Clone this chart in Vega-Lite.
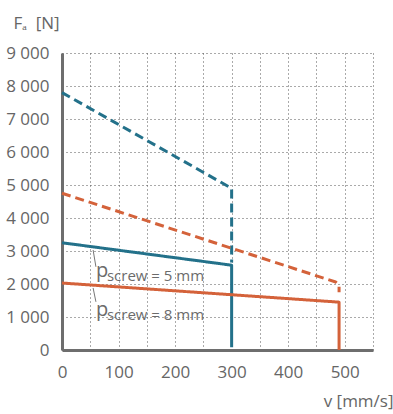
{
  "$schema": "https://vega.github.io/schema/vega-lite/v6.json",
  "width": 311,
  "height": 297,
  "autosize": "none",
  "padding": {"left": 62, "top": 53, "right": 20, "bottom": 64},
  "background": "white",
  "config": {"font": "Open Sans", "view": {"stroke": null}},
  "datasets": {
    "curves": [
      {"curve": "b5", "pitch": "5 mm", "kind": "solid", "i": 0, "v": 0, "F": 3250},
      {"curve": "b5", "pitch": "5 mm", "kind": "solid", "i": 1, "v": 300, "F": 2570},
      {"curve": "b5", "pitch": "5 mm", "kind": "solid", "i": 2, "v": 300, "F": 80},
      {"curve": "b5d", "pitch": "5 mm", "kind": "dashed", "i": 0, "v": 0, "F": 7800},
      {"curve": "b5d", "pitch": "5 mm", "kind": "dashed", "i": 1, "v": 300, "F": 4900},
      {"curve": "b5d", "pitch": "5 mm", "kind": "dashed", "i": 2, "v": 300, "F": 2650},
      {"curve": "o8d", "pitch": "8 mm", "kind": "dashed", "i": 0, "v": 0, "F": 4750},
      {"curve": "o8d", "pitch": "8 mm", "kind": "dashed", "i": 1, "v": 484, "F": 2060},
      {"curve": "o8d", "pitch": "8 mm", "kind": "dashed", "i": 2, "v": 490, "F": 1960},
      {"curve": "o8d", "pitch": "8 mm", "kind": "dashed", "i": 3, "v": 490, "F": 1750},
      {"curve": "o8", "pitch": "8 mm", "kind": "solid", "i": 0, "v": 0, "F": 2030},
      {"curve": "o8", "pitch": "8 mm", "kind": "solid", "i": 1, "v": 490, "F": 1450},
      {"curve": "o8", "pitch": "8 mm", "kind": "solid", "i": 2, "v": 490, "F": 0}
    ],
    "notes": [
      {"v": 60, "F": 2212, "sub": "screw = 5 mm"},
      {"v": 60, "F": 1030, "sub": "screw = 8 mm"}
    ],
    "leaders": [
      {"v": 55, "F": 3030, "v2": 60, "F2": 2520},
      {"v": 55, "F": 1880, "v2": 60, "F2": 1460}
    ]
  },
  "layer": [
    {
      "data": {"name": "curves"},
      "mark": {"type": "line", "strokeWidth": 3, "strokeCap": "butt", "strokeJoin": "round"},
      "encoding": {
        "x": {
          "field": "v", "type": "quantitative",
          "scale": {"domain": [0, 550], "nice": false, "zero": false},
          "axis": {
            "tickCount": 11,
            "labelExpr": "datum.value % 100 === 0 ? datum.label : ''",
            "grid": true, "gridDash": [1, 3], "gridColor": "#555", "gridWidth": 1, "gridOpacity": 1,
            "domainColor": "#6e6e6e", "domainWidth": 3, "domainCap": "butt",
            "ticks": false, "labelPadding": 14, "labelFontSize": 17, "labelColor": "#666",
            "labelFlush": false, "labelOverlap": false,
            "title": "v [mm/s]", "titleX": 331, "titleY": 56, "titleAlign": "right",
            "titleBaseline": "alphabetic", "titleFontSize": 17, "titleFontWeight": "normal", "titleColor": "#666"
          }
        },
        "y": {
          "field": "F", "type": "quantitative",
          "scale": {"domain": [0, 9000], "nice": false},
          "axis": {
            "tickCount": 9,
            "format": ",d",
            "labelExpr": "replace(datum.label, ',', ' ')",
            "grid": true, "gridDash": [1, 3], "gridColor": "#555", "gridWidth": 1, "gridOpacity": 1,
            "domainColor": "#6e6e6e", "domainWidth": 3, "domainCap": "butt",
            "ticks": false, "labelPadding": 13, "labelFontSize": 17, "labelColor": "#666",
            "labelFlush": false, "labelOverlap": false,
            "title": "Fₐ\u00a0 [N]", "titleAngle": 0, "titleX": -49, "titleY": -25, "titleAlign": "left",
            "titleBaseline": "alphabetic", "titleFontSize": 17, "titleFontWeight": "normal", "titleColor": "#666"
          }
        },
        "color": {"field": "pitch", "type": "nominal", "scale": {"domain": ["5 mm", "8 mm"], "range": ["#23718a", "#d4623a"]}, "legend": null},
        "strokeDash": {"field": "kind", "type": "nominal", "scale": {"domain": ["solid", "dashed"], "range": [[1, 0], [9, 5]]}, "legend": null},
        "detail": {"field": "curve"},
        "order": {"field": "i", "type": "quantitative"}
      }
    },
    {
      "data": {"name": "leaders"},
      "mark": {"type": "rule", "color": "#777", "strokeWidth": 1},
      "encoding": {
        "x": {"field": "v", "type": "quantitative"},
        "y": {"field": "F", "type": "quantitative"},
        "x2": {"field": "v2"},
        "y2": {"field": "F2"}
      }
    },
    {
      "data": {"name": "notes"},
      "mark": {"type": "text", "align": "left", "baseline": "alphabetic", "fontSize": 20, "color": "#6b6b6b"},
      "encoding": {
        "x": {"field": "v", "type": "quantitative"},
        "y": {"field": "F", "type": "quantitative"},
        "text": {"value": "p"}
      }
    },
    {
      "data": {"name": "notes"},
      "mark": {"type": "text", "align": "left", "baseline": "alphabetic", "fontSize": 15, "color": "#6b6b6b", "dx": 11, "dy": 4},
      "encoding": {
        "x": {"field": "v", "type": "quantitative"},
        "y": {"field": "F", "type": "quantitative"},
        "text": {"field": "sub"}
      }
    }
  ]
}
